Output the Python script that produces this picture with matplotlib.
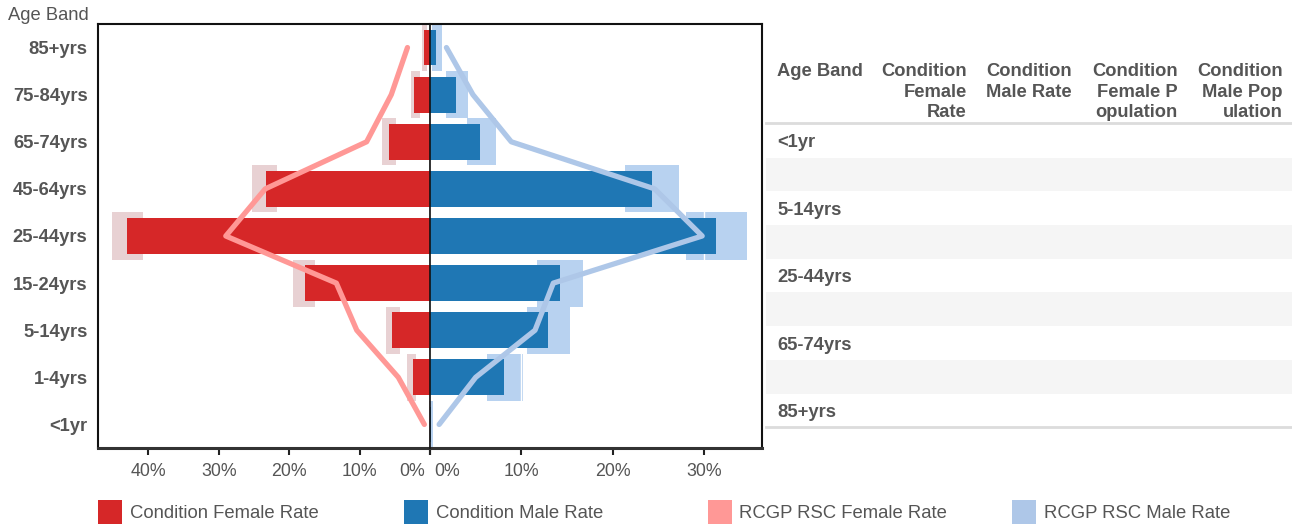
import matplotlib
matplotlib.use("Agg")
import matplotlib.pyplot as plt
import matplotlib.transforms as mtransforms
from matplotlib.patches import Rectangle

plt.rcParams['font.family'] = ['Liberation Sans', 'DejaVu Sans']

# ---------------- data ----------------
age_bands = ['<1yr', '1-4yrs', '5-14yrs', '15-24yrs', '25-44yrs',
             '45-64yrs', '65-74yrs', '75-84yrs', '85+yrs']
female_rate = [0.05, 2.4, 5.4, 17.8, 43.0, 23.3, 5.8, 2.3, 0.9]
female_lo = [0.0, 2.0, 4.3, 16.4, 40.8, 21.7, 4.8, 1.4, 0.4]
female_hi = [0.1, 3.3, 6.3, 19.5, 45.2, 25.3, 6.8, 2.7, 1.1]
male_rate = [0.1, 8.1, 12.9, 14.2, 31.3, 24.3, 5.5, 2.9, 0.7]
male_lo = [0.0, 6.2, 10.6, 11.7, 28.0, 21.4, 4.1, 1.8, 0.2]
male_hi = [0.3, 10.2, 15.3, 16.8, 34.7, 27.3, 7.2, 4.2, 1.3]
rcgp_female = [0.8, 4.5, 10.4, 13.3, 29.0, 23.4, 9.0, 5.5, 3.2]
rcgp_male = [1.0, 5.0, 11.5, 13.5, 29.8, 24.6, 8.9, 4.7, 1.8]
left_ticks = [0, 10, 20, 30, 40]
right_ticks = [0, 10, 20, 30]
legend_labels = ['Condition Female Rate', 'Condition Male Rate',
                 'RCGP RSC Female Rate', 'RCGP RSC Male Rate']
table_headers = [['Age Band'],
                 ['Condition', 'Female', 'Rate'],
                 ['Condition', 'Male Rate'],
                 ['Condition', 'Female P', 'opulation'],
                 ['Condition', 'Male Pop', 'ulation']]
table_rows = ['<1yr', '', '5-14yrs', '', '25-44yrs', '', '65-74yrs', '', '85+yrs']

# ---------------- style ----------------
W, H = 1292, 527
RED, BLUE = '#d62728', '#1f77b4'
PINK, LBLUE = '#ff9896', '#aec7e8'
RED_CI, BLUE_CI = '#e8d1d3', '#b8d2f0'
TXT = '#555555'
FS = 13.2

fig = plt.figure(figsize=(W / 100, H / 100), dpi=100)


def fx(px):
    return px / W


def fy(py):
    return 1 - py / H


left_px, mid_px, right_px, top_px, bot_px = 98, 430, 762, 24, 448
axL = fig.add_axes([fx(left_px), fy(bot_px), fx(mid_px - left_px), (bot_px - top_px) / H])
axR = fig.add_axes([fx(mid_px), fy(bot_px), fx(right_px - mid_px), (bot_px - top_px) / H])

ypos = list(range(len(age_bands)))

# left (female)
for y, lo, hi in zip(ypos, female_lo, female_hi):
    axL.barh(y, hi - lo, left=lo, height=1.0, color=RED_CI, zorder=1)
axL.barh(ypos, female_rate, height=0.76, color=RED, zorder=3)
axL.plot(rcgp_female, ypos, color=PINK, lw=3.8, solid_capstyle='round',
         solid_joinstyle='round', zorder=4)
for t in left_ticks[1:]:
    axL.axvline(t, color='white', lw=1, zorder=2)
axL.set_xlim(47.15, 0)
axL.set_ylim(-0.5, len(age_bands) - 0.5)
axL.set_xticks(left_ticks)
axL.set_xticklabels([f'{t}%' for t in left_ticks])
axL.set_yticks(ypos)
axL.set_yticklabels(age_bands, fontweight='bold', fontsize=FS, color=TXT)
axL.tick_params(axis='y', length=0, pad=7.5)

# right (male)
for y, lo, hi in zip(ypos, male_lo, male_hi):
    axR.barh(y, hi - lo, left=lo, height=1.0, color=BLUE_CI, zorder=1)
axR.barh(ypos, male_rate, height=0.76, color=BLUE, zorder=3)
axR.plot(rcgp_male, ypos, color=LBLUE, lw=3.8, solid_capstyle='round',
         solid_joinstyle='round', zorder=4)
for t in right_ticks[1:]:
    axR.axvline(t, color='white', lw=1, zorder=2)
axR.axvline(0, color='#111111', lw=1.2, zorder=6, clip_on=False)
axR.set_xlim(0, 36.35)
axR.set_ylim(-0.5, len(age_bands) - 0.5)
axR.set_xticks(right_ticks)
axR.set_xticklabels([f'{t}%' for t in right_ticks])
axR.set_yticks([])

for ax in (axL, axR):
    ax.tick_params(axis='x', direction='out', length=5, width=1.5, color='#222222',
                   labelsize=12.8, labelcolor=TXT, pad=6)
    for s in ('top', 'left', 'right'):
        ax.spines[s].set_color('#111111')
        ax.spines[s].set_linewidth(1.5)
    ax.spines['bottom'].set_color('#333333')
    ax.spines['bottom'].set_linewidth(2.2)
axL.spines['right'].set_linewidth(1.0)
axR.spines['left'].set_visible(False)

# shift the two 0% labels apart
lab0L = axL.get_xticklabels()[0]
lab0L.set_ha('right')
lab0L.set_transform(lab0L.get_transform() + mtransforms.ScaledTranslation(-5 / 100, 0, fig.dpi_scale_trans))
lab0R = axR.get_xticklabels()[0]
lab0R.set_ha('left')
lab0R.set_transform(lab0R.get_transform() + mtransforms.ScaledTranslation(4.5 / 100, 0, fig.dpi_scale_trans))

# axis title
fig.text(fx(8), fy(20), 'Age Band', fontsize=FS, color=TXT, ha='left', va='baseline')

# ---------------- legend ----------------
leg_colors = [RED, BLUE, PINK, LBLUE]
leg_x = [98, 403.5, 707.5, 1012.5]
for x, c, lab in zip(leg_x, leg_colors, legend_labels):
    fig.add_artist(Rectangle((fx(x), fy(524)), 24 / W, 24 / H, transform=fig.transFigure,
                             color=c, lw=0))
    fig.text(fx(x + 32), fy(517.5), lab, fontsize=13.3, color=TXT, ha='left', va='baseline')

# ---------------- table ----------------
tab_l, tab_r = 766, 1292
row_top0, row_h = 124, 33.7
for i, lab in enumerate(table_rows):
    top = row_top0 + i * row_h
    if i % 2 == 1:
        fig.add_artist(Rectangle((fx(tab_l), fy(top + row_h)), (tab_r - tab_l) / W, row_h / H,
                                 transform=fig.transFigure, color='#f5f5f5', lw=0, zorder=0))
    if lab:
        fig.text(fx(777), fy(top + 23.3), lab, fontsize=FS, fontweight='bold', color=TXT,
                 ha='left', va='baseline')
for yl in (122.7, row_top0 + len(table_rows) * row_h):
    fig.add_artist(plt.Line2D([fx(tab_l), fx(tab_r)], [fy(yl), fy(yl)], transform=fig.transFigure,
                              color='#dcdcdc', lw=2))

hdr_x = [(777, 'left'), (967, 'right'), (1072, 'right'), (1178, 'right'), (1283, 'right')]
base_y = [76, 96.7, 117]
for (x, ha), lines in zip(hdr_x, table_headers):
    for j, line in enumerate(lines):
        fig.text(fx(x), fy(base_y[j]), line, fontsize=FS, fontweight='bold', color=TXT,
                 ha=ha, va='baseline')

fig.savefig('out.png', dpi=100)
